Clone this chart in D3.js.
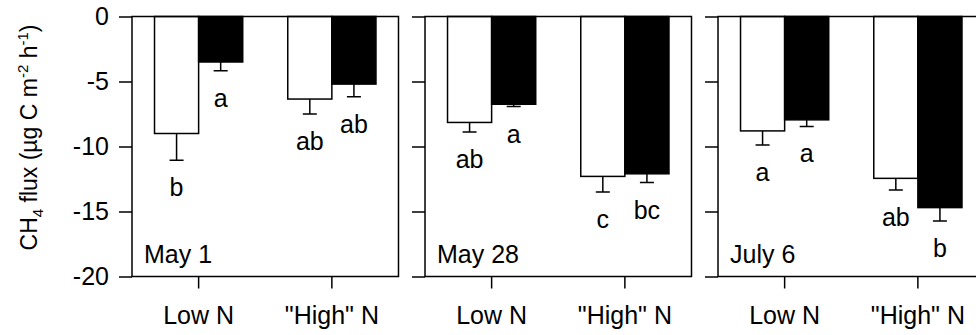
<!DOCTYPE html>
<html>
<head>
<meta charset="utf-8">
<script src="https://cdn.jsdelivr.net/npm/d3@7"></script>
<style>
  body { margin: 0; background: #fff; }
  svg { display: block; }
  text { font-family: "Liberation Sans", Arial, Helvetica, sans-serif; fill: #000; }
  .axis path, .axis line { stroke: #000; stroke-width: 1.5; }
</style>
</head>
<body>
<svg class="chart" width="976" height="335"></svg>
<script>
const dates = ['May 1', 'May 28', 'July 6'];
const treatments = ['Low N', '"High" N'];
const series = ['open', 'solid'];

// means (rows = dates, cols = treatments)
const openMeans = [[-9.0, -6.35], [-8.15, -12.3], [-8.8, -12.45]];
const openErr = [[2.05, 1.15], [0.74, 1.2], [1.08, 0.9]];
const openLetters = [['b', 'ab'], ['ab', 'c'], ['a', 'ab']];

const solidMeans = [[-3.5, -5.2], [-6.75, -12.1], [-7.95, -14.7]];
const solidErr = [[0.67, 0.97], [0.18, 0.67], [0.51, 1.03]];
const solidLetters = [['a', 'ab'], ['a', 'bc'], ['a', 'b']];

const yTicks = [0, -5, -10, -15, -20];

const margin = { top: 16.5, left: 132, bottom: 58 };
const height = 335;
const fontSize = 25;

const svg = d3.select('.chart');

const panel = d3.scaleBand()
  .domain(dates)
  .range([margin.left, 984.5])
  .paddingInner(0.0905);

const pw = panel.bandwidth();

const y = d3.scaleLinear()
  .domain([-20, 0])
  .range([height - margin.bottom - 0.5, margin.top]);

const x = d3.scaleBand()
  .domain(treatments)
  .range([0, pw])
  .paddingInner(0.338)
  .paddingOuter(0.169);

const xs = d3.scaleBand()
  .domain(series)
  .range([0, x.bandwidth()]);

const rows = [];
dates.forEach((date, i) => {
  treatments.forEach((t, j) => {
    rows.push({ date, t, s: 'open', v: openMeans[i][j], e: openErr[i][j], l: openLetters[i][j] });
    rows.push({ date, t, s: 'solid', v: solidMeans[i][j], e: solidErr[i][j], l: solidLetters[i][j] });
  });
});

dates.forEach((date, i) => {
  const g = svg.append('g')
    .attr('transform', 'translate(' + panel(date) + ',0)');

  const data = rows.filter(d => d.date === date);
  const cx = d => x(d.t) + xs(d.s) + xs.bandwidth() / 2;

  // bars
  g.selectAll('.bar')
    .data(data)
    .enter().append('rect')
    .attr('class', 'bar')
    .attr('x', d => x(d.t) + xs(d.s))
    .attr('y', y(0))
    .attr('width', xs.bandwidth())
    .attr('height', d => y(d.v) - y(0))
    .attr('fill', d => d.s === 'open' ? '#fff' : '#000')
    .attr('stroke', '#000')
    .attr('stroke-width', 1.5);

  // error bars
  g.selectAll('.err')
    .data(data)
    .enter().append('path')
    .attr('class', 'err')
    .attr('fill', 'none')
    .attr('stroke', '#000')
    .attr('stroke-width', 1.5)
    .attr('d', d => {
      const x0 = cx(d);
      return 'M' + x0 + ',' + y(d.v) + 'V' + y(d.v - d.e) +
        'M' + (x0 - 7) + ',' + y(d.v - d.e) + 'H' + (x0 + 7);
    });

  // significance letters
  g.selectAll('.letter')
    .data(data)
    .enter().append('text')
    .attr('class', 'letter')
    .attr('x', cx)
    .attr('y', d => y(d.v - d.e) + 36)
    .attr('text-anchor', 'middle')
    .style('font-size', fontSize + 'px')
    .text(d => d.l);

  // frame
  g.append('rect')
    .attr('x', 0)
    .attr('y', y(0))
    .attr('width', pw)
    .attr('height', y(-20) - y(0))
    .attr('fill', 'none')
    .attr('stroke', '#000')
    .attr('stroke-width', 1.5);

  // y axis (labels only on the first panel)
  const yAxis = d3.axisLeft(y).tickValues(yTicks).tickSize(13).tickPadding(10);
  const ya = g.append('g')
    .attr('class', 'axis')
    .call(yAxis);
  ya.select('.domain').remove();
  ya.selectAll('text')
    .style('font-size', fontSize + 'px')
    .text(d => i === 0 ? d : '');

  // x axis
  const xAxis = d3.axisBottom(x).tickSize(12).tickPadding(18);
  const xa = g.append('g')
    .attr('class', 'axis')
    .attr('transform', 'translate(0,' + y(-20) + ')')
    .call(xAxis);
  xa.select('.domain').remove();
  xa.selectAll('text').style('font-size', fontSize + 'px');

  // date label
  g.append('text')
    .attr('x', 12)
    .attr('y', y(-20) - 14)
    .style('font-size', fontSize + 'px')
    .text(date);
});

// y axis title
const title = svg.append('text')
  .attr('transform', 'translate(37,' + ((y(0) + y(-20)) / 2 - 9) + ') rotate(-90)')
  .attr('text-anchor', 'middle')
  .style('font-size', '23px');
title.append('tspan').text('CH');
title.append('tspan').attr('dy', 6).style('font-size', '15px').text('4');
title.append('tspan').attr('dy', -6).text(' flux (\u00b5g C m');
title.append('tspan').attr('dy', -9).style('font-size', '15px').text('-2');
title.append('tspan').attr('dy', 9).text(' h');
title.append('tspan').attr('dy', -9).style('font-size', '15px').text('-1');
title.append('tspan').attr('dy', 9).text(')');
</script>
</body>
</html>
